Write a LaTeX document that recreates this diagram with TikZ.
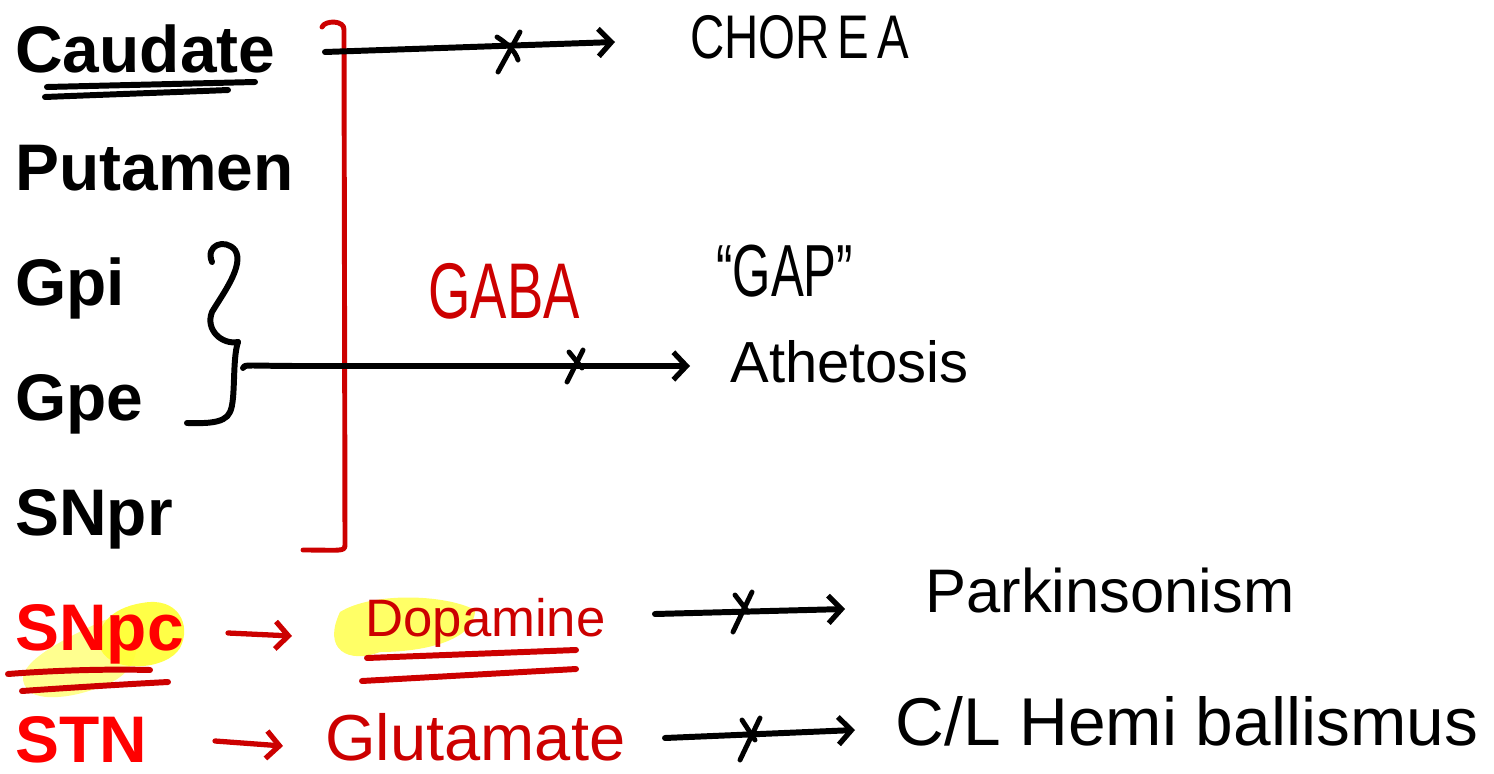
\documentclass[tikz,border=0pt]{standalone}
\usepackage{fontspec}
\setmainfont{Liberation Sans}
\usetikzlibrary{arrows.meta}
\definecolor{hred}{HTML}{CC0000}
\definecolor{bred}{HTML}{FF0000}
\definecolor{hl}{HTML}{FFFF33}
\begin{document}
\begin{tikzpicture}[x=0.02cm,y=-0.02cm,
  lbl/.style={anchor=base west,inner sep=0pt,font=\fontsize{37.5}{40}\selectfont\bfseries},
  hw/.style={anchor=base west,inner sep=0pt},
  pen/.style={line width=3.4pt,line cap=round,line join=round},
  thinpen/.style={line width=2.8pt,line cap=round,line join=round},
  arr/.style={pen,-{Straight Barb[length=2.6mm,width=5.5mm,line width=3pt]}},
]
\useasboundingbox (0,0) rectangle (1494,774);
% highlights
\fill[hl,opacity=0.55] (30,692) .. controls (8,672) and (40,650) .. (100,622) .. controls (135,605) and (155,660) .. (112,682) .. controls (80,697) and (45,702) .. (30,692) -- cycle;
\fill[hl,opacity=0.9] (142,603) .. controls (178,596) and (192,625) .. (180,648) .. controls (167,670) and (113,674) .. (101,650) .. controls (93,628) and (110,608) .. (142,603) -- cycle;
\fill[hl,opacity=0.75] (340,612) .. controls (372,592) and (445,594) .. (475,610) .. controls (475,642) and (420,652) .. (380,652) .. controls (348,664) and (322,650) .. (340,612) -- cycle;
% left labels
\node[lbl] (caud) at (15,72) {Caudate};
\node[lbl] (put) at (15,190) {Putamen};
\node[lbl] (gpi) at (15,305) {Gpi};
\node[lbl] (gpe) at (15,420) {Gpe};
\node[lbl] (snpr) at (15,535) {SNpr};
\node[lbl,text=bred] (snpc) at (15,650) {SNpc};
\node[lbl,text=bred] (stn) at (15,762) {STN};
% underlines
\draw[pen] (47,87) -- (255,82);
\draw[pen] (45,97) .. controls (120,94) and (180,92) .. (228,90);
\draw[pen,hred] (8,674) .. controls (60,670) and (110,669) .. (150,670);
\draw[pen,hred] (22,691) .. controls (80,687) and (130,684) .. (168,682);
\draw[pen,hred] (367,658) -- (576,650);
\draw[pen,hred] (362,681) -- (576,669);
% red GABA bracket
\coordinate (bt) at (322,27);
\coordinate (bb) at (303,550);
\draw[thinpen,hred] (bt) .. controls (325,20) and (345,20) .. (344,30) -- (345,545) .. controls (345,552) and (340,550) .. (bb);
\node[hw,text=hred,font=\fontsize{31}{34}\selectfont] (gaba) at (428,318) {\scalebox{1}[1.45]{GABA}};
% curly brace for Gpi/Gpe
\coordinate (bj) at (238,342);
\draw[pen] (212,262) .. controls (205,245) and (225,238) .. (235,250) .. controls (245,265) and (222,295) .. (212,312) .. controls (205,330) and (222,345) .. (bj);
\draw[pen] (bj) .. controls (232,360) and (236,400) .. (230,412) .. controls (225,425) and (200,423) .. (187,423);
% arrows and crosses
\coordinate (a1s) at (325,52);
\coordinate (a1e) at (615,42);
\draw[arr] (a1s) -- (a1e);
\draw[thinpen] (498,72) -- (520,32);
\draw[thinpen] (497,37) .. controls (505,42) and (515,50) .. (518,60);
\node[hw,font=\fontsize{27}{30}\selectfont] (chorea) at (690,58) {\scalebox{1}[1.3]{CHOR\,E\,A}};
\coordinate (a2s) at (243,368);
\coordinate (a2e) at (690,366);
\draw[arr] (a2s) .. controls (243,364) and (250,366) .. (300,366) -- (a2e);
\draw[thinpen] (567,382) -- (583,350);
\draw[thinpen] (569,352) -- (582,368);
\node[hw,font=\fontsize{28}{30}\selectfont] (gap) at (716,296) {\scalebox{1}[1.5]{“GAP”}};
\node[hw,font=\fontsize{33}{36}\selectfont] (athet) at (730,382) {Athetosis};
% SNpc row
\draw[arr,hred,line width=3pt] (228,633) -- (292,636);
\node[hw,text=hred,font=\fontsize{30}{33}\selectfont] (dopa) at (365,636) {Dopamine};
\coordinate (a3s) at (655,614);
\coordinate (a3e) at (845,609);
\draw[arr] (a3s) -- (a3e);
\draw[thinpen] (733,632) -- (752,592);
\draw[thinpen] (735,595) -- (748,612);
\node[hw,font=\fontsize{35}{38}\selectfont] (park) at (925,612) {Parkinsonism};
% STN row
\draw[arr,hred,line width=3pt] (215,741) -- (283,746);
\node[hw,text=hred,font=\fontsize{37}{40}\selectfont] (glut) at (325,760) {Glutamate};
\coordinate (a4s) at (665,738);
\coordinate (a4e) at (855,730);
\draw[arr] (a4s) -- (a4e);
\draw[thinpen] (740,760) -- (760,718);
\draw[thinpen] (742,720) -- (755,740);
\node[hw,font=\fontsize{38.5}{42}\selectfont] (hemi) at (895,745) {C/L Hemi ballismus};
\end{tikzpicture}
\end{document}
